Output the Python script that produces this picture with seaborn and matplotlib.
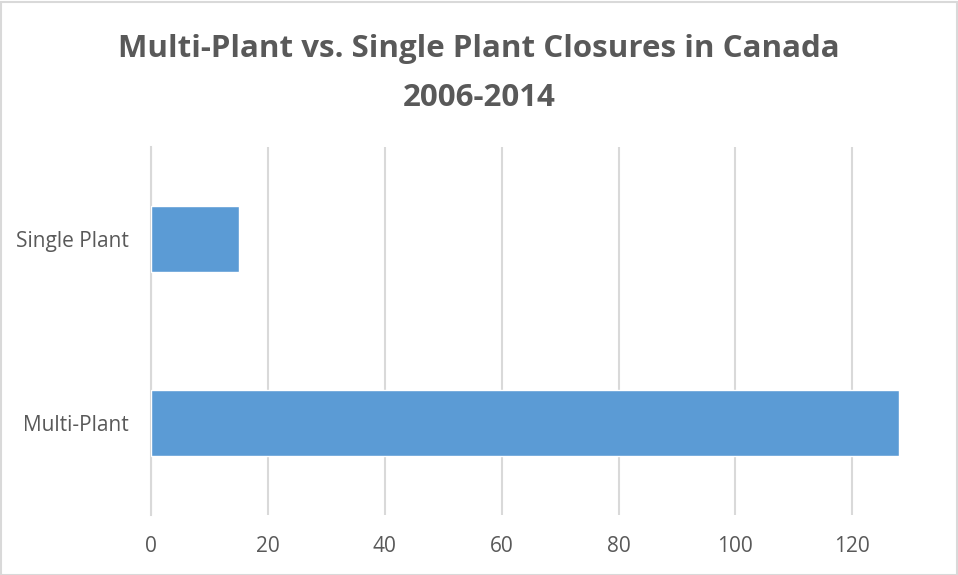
import matplotlib
matplotlib.use("Agg")
import matplotlib.pyplot as plt
import seaborn as sns
import pandas as pd
from matplotlib.patches import Rectangle

categories = ["Single Plant", "Multi-Plant"]
closures = [15, 128]
x_ticks = [0, 20, 40, 60, 80, 100, 120]
title_lines = ["Multi-Plant vs. Single Plant Closures in Canada", "2006-2014"]

sns.set_theme(style="white")
plt.rcParams['font.family'] = ['Open Sans', 'DejaVu Sans']

df = pd.DataFrame({"category": categories, "closures": closures})

fig = plt.figure(figsize=(9.58, 5.75), dpi=100)
ax = fig.add_axes([151/958, 60/575, (899-151)/958, (515-147)/575])

sns.barplot(data=df, x="closures", y="category", orient="h", color="#5B9BD5",
            saturation=1, width=0.355, ax=ax, zorder=3)

ax.set_xlim(0, 128)
ax.set_xticks(x_ticks)
ax.set_xticklabels([str(t) for t in x_ticks])
ax.xaxis.grid(True, color="#D9D9D9", linewidth=1.5, zorder=0)
ax.yaxis.grid(False)
for s in ["top", "right", "bottom"]:
    ax.spines[s].set_visible(False)
ax.spines["left"].set_color("#D9D9D9")
ax.spines["left"].set_linewidth(1.5)
ax.tick_params(axis="both", length=0, labelsize=15, labelcolor="#595959")
ax.tick_params(axis="x", pad=15)
ax.tick_params(axis="y", pad=16)
ax.set_xlabel("")
ax.set_ylabel("")

fig.text(0.5, 1 - 57/575, title_lines[0], ha="center", va="baseline",
         fontsize=22.5, fontweight="bold", color="#595959")
fig.text(0.5, 1 - 106/575, title_lines[1], ha="center", va="baseline",
         fontsize=22.5, fontweight="bold", color="#595959")

fig.patches.append(Rectangle((0.5/958, 0.5/575), 1 - 2/958, 1 - 2/575,
                             transform=fig.transFigure, fill=False,
                             edgecolor="#D9D9D9", linewidth=1.5))

fig.savefig("out.png", dpi=100)
